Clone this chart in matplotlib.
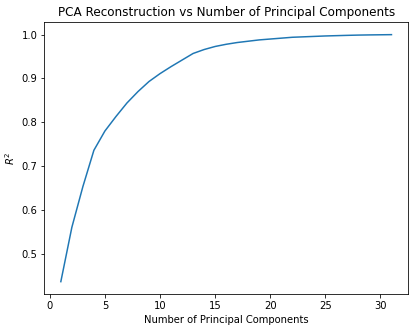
import matplotlib
matplotlib.use("Agg")
import matplotlib.pyplot as plt

n_components = list(range(1, 32))
r2_values = [0.436, 0.560, 0.653, 0.736, 0.780, 0.813, 0.844, 0.870, 0.893, 0.911,
             0.927, 0.942, 0.957, 0.966, 0.973, 0.978, 0.982, 0.985, 0.988, 0.990,
             0.992, 0.994, 0.995, 0.996, 0.997, 0.9977, 0.9984, 0.999, 0.9994, 0.9997, 1.0]

fig = plt.figure(figsize=(416/72, 332/72), dpi=72)
ax = fig.add_axes([44.3/416, 1-294/332, (408-44.3)/416, (294-22.3)/332])
ax.plot(n_components, r2_values)
ax.set_title("PCA Reconstruction vs Number of Principal Components")
ax.set_xlabel("Number of Principal Components")
ax.set_ylabel("$R^2$")
fig.savefig("out.png", dpi=72)
